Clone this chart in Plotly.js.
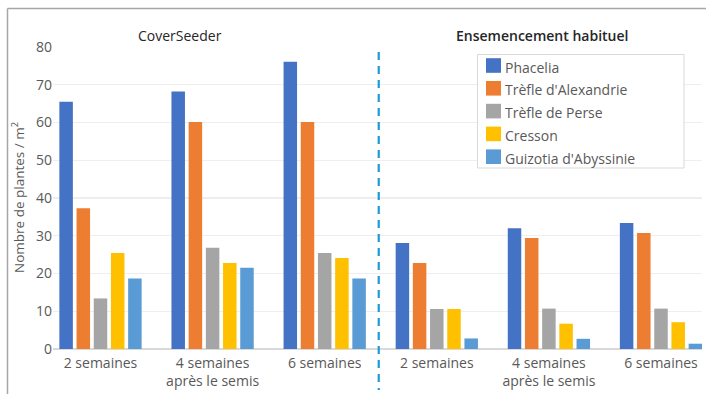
<!DOCTYPE html>
<html>
<head>
<meta charset="utf-8">
<script src="https://cdn.plot.ly/plotly-3.0.1.min.js"></script>
<style>html,body{margin:0;padding:0;background:#fff;}#chart{width:706px;height:394px;}</style>
</head>
<body>
<div id="chart"></div>
<script>
// ---- data ----
const categories = ['2 semaines', '4 semaines<br>après le semis', '6 semaines', '2 semaines', '4 semaines<br>après le semis', '6 semaines'];
const seriesNames = ['Phacelia', "Trèfle d'Alexandrie", 'Trèfle de Perse', 'Cresson', "Guizotia d'Abyssinie"];
const phacelia = [65.5, 68.2, 76.1, 28.1, 32.0, 33.4];
const trefleAlexandrie = [37.3, 60.1, 60.1, 22.8, 29.4, 30.7];
const treflePerse = [13.4, 26.8, 25.4, 10.6, 10.7, 10.7];
const cresson = [25.4, 22.8, 24.1, 10.6, 6.7, 7.1];
const guizotia = [18.7, 21.5, 18.7, 2.8, 2.7, 1.4];
const groupTitles = ['CoverSeeder', 'Ensemencement habituel'];
const yTicks = [0, 10, 20, 30, 40, 50, 60, 70, 80];

const seriesValues = [phacelia, trefleAlexandrie, treflePerse, cresson, guizotia];
const colors = ['#4472C4', '#ED7D31', '#A5A5A5', '#FFC000', '#5B9BD5'];
const xIdx = categories.map((_, i) => i);

const W = 706, H = 394;
const M = {l: 53, r: 4, t: 47, b: 45};
const PW = W - M.l - M.r, PH = H - M.t - M.b;
const px = x => (x - M.l) / PW;
const py = y => (H - M.b - y) / PH;
const font = 'Open Sans, Noto Sans, sans-serif';

const traces = seriesValues.map((vals, k) => ({
  type: 'bar',
  name: seriesNames[k],
  x: xIdx,
  y: vals,
  marker: {color: colors[k]},
  showlegend: false,
  hoverinfo: 'y+name'
}));

const shapes = [];
const annotations = [];

// frame lines
shapes.push({type: 'line', xref: 'paper', yref: 'paper', x0: px(7.5), x1: px(706), y0: py(8.5), y1: py(8.5), line: {color: '#a6a6a6', width: 1.5}});
shapes.push({type: 'line', xref: 'paper', yref: 'paper', x0: px(7.5), x1: px(7.5), y0: py(8.5), y1: py(394), line: {color: '#a6a6a6', width: 1.5}});

// divider between groups
shapes.push({type: 'line', xref: 'x', yref: 'paper', x0: 2.482, x1: 2.482, y0: py(52), y1: py(390), line: {color: '#1a9bd7', width: 2.2, dash: '8px,6px'}});

// group titles
annotations.push({xref: 'paper', yref: 'paper', x: px(180), y: py(35), text: groupTitles[0], showarrow: false, xanchor: 'center', yanchor: 'middle', font: {family: font, size: 14, color: '#262626'}});
annotations.push({xref: 'paper', yref: 'paper', x: px(542), y: py(35), text: groupTitles[1], showarrow: false, xanchor: 'center', yanchor: 'middle', font: {family: font, size: 14, color: '#262626', weight: 600}});

// y axis title
annotations.push({xref: 'paper', yref: 'paper', x: px(18), y: py(198), text: 'Nombre de plantes / m<sup>2</sup>', textangle: -90, showarrow: false, xanchor: 'center', yanchor: 'middle', font: {family: font, size: 13.5, color: '#595959'}});

// legend
shapes.push({type: 'rect', xref: 'paper', yref: 'paper', x0: px(477.5), x1: px(684), y0: py(54.5), y1: py(168), line: {color: '#d9d9d9', width: 1}, fillcolor: '#ffffff', layer: 'above'});
seriesNames.forEach((n, k) => {
  const cy = 65.5 + k * 22.8;
  shapes.push({type: 'rect', xref: 'paper', yref: 'paper', x0: px(486), x1: px(501), y0: py(cy - 7.3), y1: py(cy + 7.3), line: {width: 0}, fillcolor: colors[k], layer: 'above'});
  annotations.push({xref: 'paper', yref: 'paper', x: px(503), y: py(cy + 1.5), text: n, showarrow: false, xanchor: 'left', yanchor: 'middle', font: {family: font, size: 14, color: '#595959'}});
});

const layout = {
  width: W, height: H,
  margin: M,
  paper_bgcolor: '#ffffff', plot_bgcolor: '#ffffff',
  font: {family: font, size: 14, color: '#595959'},
  barmode: 'group',
  bargap: 0.233,
  bargroupgap: 0.215,
  xaxis: {
    range: [-(100.5 - M.l) / 112.1, (W - M.r - 100.5) / 112.1],
    tickmode: 'array', tickvals: xIdx, ticktext: categories,
    showgrid: false, zeroline: false, showline: false, ticks: '',
    ticklabelstandoff: 4,
    tickfont: {family: font, size: 14, color: '#595959'}
  },
  yaxis: {
    range: [0, 80],
    tickmode: 'array', tickvals: yTicks,
    showgrid: true, gridcolor: '#eeeeee', gridwidth: 1.2,
    zeroline: true, zerolinecolor: '#d9d9d9', zerolinewidth: 1.2,
    showline: false, ticks: '',
    tickfont: {family: font, size: 14, color: '#595959'}
  },
  shapes: shapes,
  annotations: annotations
};

Plotly.newPlot('chart', traces, layout, {displayModeBar: false, staticPlot: true});
</script>
</body>
</html>
